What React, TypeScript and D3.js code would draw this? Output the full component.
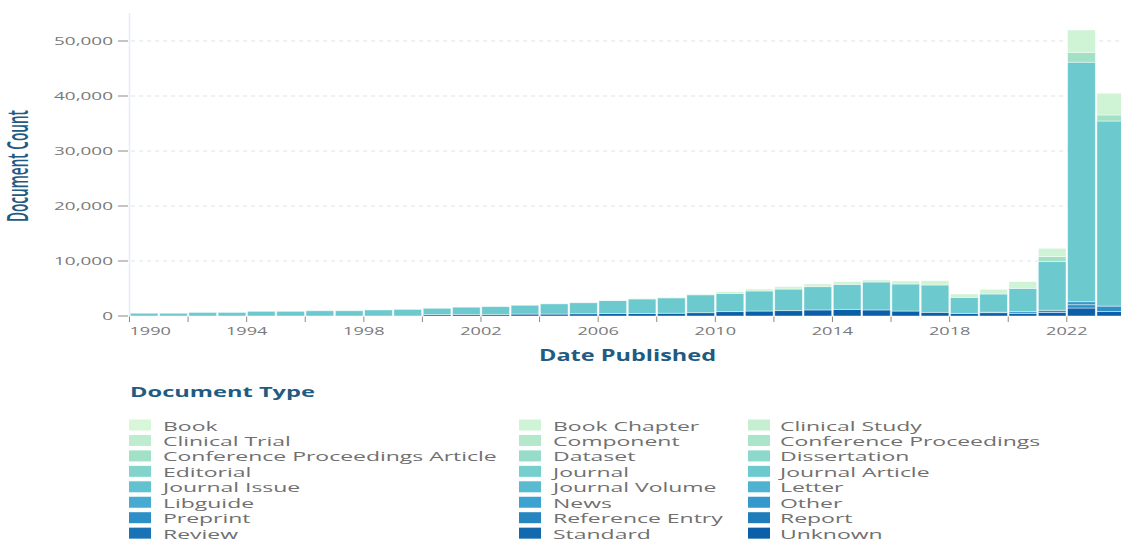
import React from "react";
import * as d3 from "d3";

const years = [
  1990, 1991, 1992, 1993, 1994, 1995, 1996, 1997, 1998, 1999, 2000, 2001,
  2002, 2003, 2004, 2005, 2006, 2007, 2008, 2009, 2010, 2011, 2012, 2013,
  2014, 2015, 2016, 2017, 2018, 2019, 2020, 2021, 2022, 2023,
];

const documentTypes = [
  "Book", "Book Chapter", "Clinical Study", "Clinical Trial", "Component",
  "Conference Proceedings", "Conference Proceedings Article", "Dataset",
  "Dissertation", "Editorial", "Journal", "Journal Article", "Journal Issue",
  "Journal Volume", "Letter", "Libguide", "News", "Other", "Preprint",
  "Reference Entry", "Report", "Review", "Standard", "Unknown",
];

const journalArticle = [
  500, 500, 650, 650, 850, 850, 950, 950, 1100, 1200, 1150, 1300, 1400, 1600,
  1850, 2000, 2350, 2650, 2800, 3250, 3330, 3650, 3930, 4230, 4550, 5080,
  4920, 4970, 2920, 3300, 4250, 8850, 43550, 33650,
];
const bookChapter = [
  0, 0, 0, 0, 0, 0, 0, 0, 0, 0, 0, 0, 0, 0, 0, 0, 50, 100, 100, 150, 300, 350,
  430, 490, 480, 370, 540, 780, 600, 850, 1210, 1500, 4050, 3950,
];
const confProcArticle = [
  0, 0, 0, 0, 0, 0, 0, 0, 0, 0, 0, 0, 0, 0, 0, 0, 0, 0, 0, 0, 0, 0, 0, 0, 0,
  0, 0, 0, 0, 0, 0, 900, 1800, 1100,
];
const other = [
  0, 0, 0, 0, 0, 0, 0, 0, 0, 0, 0, 0, 0, 0, 0, 0, 0, 0, 0, 0, 0, 0, 0, 0, 0,
  0, 0, 0, 0, 0, 0, 0, 550, 0,
];
const preprint = [
  0, 0, 0, 0, 0, 0, 0, 0, 0, 0, 0, 0, 0, 0, 0, 0, 0, 0, 0, 0, 0, 0, 0, 0, 0,
  0, 0, 0, 0, 100, 300, 400, 600, 1000,
];
const unknown = [
  0, 0, 0, 0, 0, 0, 0, 0, 0, 0, 250, 300, 300, 350, 350, 400, 450, 450, 500,
  600, 790, 900, 970, 1100, 1210, 1100, 900, 670, 480, 600, 480, 650, 1450, 800,
];

const seriesByType: Record<string, number[]> = {
  "Book Chapter": bookChapter,
  "Conference Proceedings Article": confProcArticle,
  "Journal Article": journalArticle,
  Other: other,
  Preprint: preprint,
  Unknown: unknown,
};

const yTicks = [0, 10000, 20000, 30000, 40000, 50000];
const xTickYears = [
  1990, 1992, 1994, 1996, 1998, 2000, 2002, 2004, 2006, 2008, 2010, 2012,
  2014, 2016, 2018, 2020, 2022,
];
const xLabelYears = [1990, 1994, 1998, 2002, 2006, 2010, 2014, 2018, 2022];

const W = 1121;
const H = 540;
const FONT = "'Open Sans', 'Noto Sans', sans-serif";
const TITLE_COLOR = "#1f5b82";
const TICK_COLOR = "#7a7a7a";

const color = d3
  .scaleLinear<string>()
  .domain([0, 6, 11, 16, 23])
  .range(["#d8f6d8", "#a2e1c6", "#6ccacf", "#3ca2d2", "#0b5fa8"])
  .interpolate(d3.interpolateRgb);

const x = d3.scaleLinear().domain([1990, 2024]).range([129.5, 1125.4]);
const y = d3.scaleLinear().domain([0, 55000]).range([316, 13.5]);

export default function App() {
  const rows = years.map((yr, i) => {
    const r: Record<string, number> = { year: yr };
    documentTypes.forEach((t) => {
      r[t] = seriesByType[t] ? seriesByType[t][i] : 0;
    });
    return r;
  });
  const stackKeys = documentTypes.slice().reverse();
  const stacked = d3.stack<Record<string, number>>().keys(stackKeys)(rows);

  const fmt = d3.format(",");

  return (
    <svg
      width={W}
      height={H}
      style={{ position: "absolute", left: 0, top: 0, display: "block", background: "#fff" }}
      fontFamily={FONT}
    >
      {/* y axis line */}
      <line x1={129.5} x2={129.5} y1={13} y2={316} stroke="#e4ecf8" strokeWidth={1.5} />
      {/* gridlines */}
      {yTicks.filter((t) => t > 0).map((t) => (
        <line
          key={"g" + t}
          x1={131}
          x2={W}
          y1={y(t)}
          y2={y(t)}
          stroke="#dbe5f2"
          strokeDasharray="4,4"
        />
      ))}
      {/* y ticks */}
      {yTicks.map((t) => (
        <g key={"yt" + t}>
          <line x1={118} x2={128} y1={y(t)} y2={y(t)} stroke="#8a8a8a" />
          <text
            transform={`translate(113,${y(t) + 4}) scale(1.72,1)`}
            textAnchor="end"
            fontSize={11}
            fill={TICK_COLOR}
          >
            {fmt(t)}
          </text>
        </g>
      ))}
      {/* bars */}
      {stacked.map((s) => (
        <g key={s.key} fill={color(documentTypes.indexOf(s.key))}>
          {s.map((d, i) =>
            d[1] - d[0] > 0 ? (
              <rect
                key={i}
                x={x(years[i]) + 0.8}
                width={x(years[i] + 1) - x(years[i]) - 1.6}
                y={y(d[1])}
                height={y(d[0]) - y(d[1])}
                stroke="#ffffff"
                strokeOpacity={0.55}
                strokeWidth={0.8}
              />
            ) : null
          )}
        </g>
      ))}
      {/* x ticks */}
      {xTickYears.map((yr) => (
        <line key={"xt" + yr} x1={x(yr)} x2={x(yr)} y1={316.5} y2={322} stroke="#8a8a8a" />
      ))}
      {xLabelYears.map((yr, i) => (
        <text
          key={"xl" + yr}
          transform={`translate(${x(yr)},335) scale(1.65,1)`}
          textAnchor={i === 0 ? "start" : "middle"}
          fontSize={11}
          fill={TICK_COLOR}
        >
          {yr}
        </text>
      ))}
      {/* axis titles */}
      <text
        x={627.5}
        y={360.5}
        textAnchor="middle"
        fontSize={16}
        fontWeight="bold"
        fill={TITLE_COLOR}
        textLength={177}
        lengthAdjust="spacingAndGlyphs"
      >
        Date Published
      </text>
      <text
        transform="translate(28,166) scale(2.0,1) rotate(-90)"
        textAnchor="middle"
        fontSize={14}
        fontWeight={600}
        fill={TITLE_COLOR}
        textLength={112}
        lengthAdjust="spacingAndGlyphs"
      >
        Document Count
      </text>
      {/* legend */}
      <text
        x={130}
        y={396.5}
        fontSize={14.5}
        fontWeight="bold"
        fill={TITLE_COLOR}
        textLength={185}
        lengthAdjust="spacingAndGlyphs"
      >
        Document Type
      </text>
      {documentTypes.map((t, k) => {
        const col = k % 3;
        const row = Math.floor(k / 3);
        const sx = [129, 519, 748][col];
        const tx = [163, 553, 780][col];
        const yy = 419.5 + 15.45 * row;
        return (
          <g key={"lg" + t}>
            <rect x={sx} y={yy} width={22} height={11} fill={color(k)} />
            <text
              transform={`translate(${tx},${yy + 11}) scale(1.74,1)`}
              fontSize={13.2}
              fill="#707070"
            >
              {t}
            </text>
          </g>
        );
      })}
    </svg>
  );
}
